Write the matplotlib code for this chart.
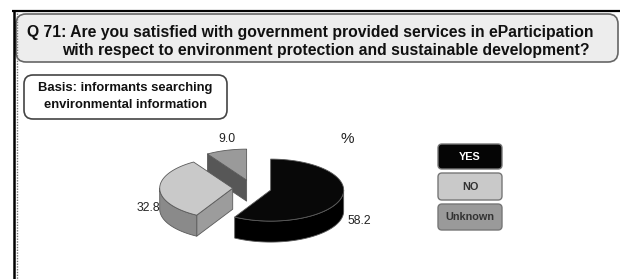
import numpy as np
import matplotlib
matplotlib.use("Agg")
import matplotlib.pyplot as plt
from matplotlib.patches import FancyBboxPatch, Polygon

# ---- data ----
categories = ["YES", "NO", "Unknown"]
values = [58.2, 32.8, 9.0]
value_labels = ["58.2", "32.8", "9.0"]
title_lines = ["Q 71: Are you satisfied with government provided services in eParticipation",
               "with respect to environment protection and sustainable development?"]
basis_lines = ["Basis: informants searching", "environmental information"]

top_colors = ["#080808", "#c9c9c9", "#9a9a9a"]
wall_colors = ["#000000", "#8a8a8a", "#6a6a6a"]
cut_colors = ["#000000", "#9c9c9c", "#575757"]
legend_face = ["#050505", "#c9c9c9", "#9a9a9a"]
legend_text = ["white", "#333333", "#333333"]

W, H = 620, 279
fig = plt.figure(figsize=(W / 100, H / 100), dpi=100)
fig.patch.set_facecolor("white")
ax = fig.add_axes([0, 0, 1, 1])
ax.set_xlim(0, W)
ax.set_ylim(H, 0)
ax.axis("off")

FONT = "Liberation Sans"

# ---- frame ----
ax.plot([12, 620], [11, 11], color="black", lw=1.6, solid_capstyle="butt")
ax.plot([13.5, 13.5], [11, 279], color="black", lw=1.8, solid_capstyle="butt")
ax.plot([16.5, 16.5], [13, 279], color="#777777", lw=1.0, ls=(0, (1, 1)))

# ---- title box ----
tb = FancyBboxPatch((16, 14), 602, 48, boxstyle="round,pad=0,rounding_size=10",
                    facecolor="#ededed", edgecolor="#666666", lw=1.2)
ax.add_patch(tb)
ax.text(27, 32, title_lines[0], fontsize=11.3, fontweight="bold", family=FONT,
        ha="left", va="center", color="#111111")
ax.text(62, 50, title_lines[1], fontsize=11.3, fontweight="bold", family=FONT,
        ha="left", va="center", color="#111111")

# ---- basis box ----
bb = FancyBboxPatch((24, 75), 203, 44, boxstyle="round,pad=0,rounding_size=9",
                    facecolor="white", edgecolor="#444444", lw=1.2)
ax.add_patch(bb)
ax.text(125, 88, basis_lines[0], fontsize=9.4, fontweight="bold", family=FONT,
        ha="center", va="center", color="#111111")
ax.text(125, 105, basis_lines[1], fontsize=9.4, fontweight="bold", family=FONT,
        ha="center", va="center", color="#111111")

# ---- 3D exploded pie ----
cx, cy = 252.0, 188.0
rx, ry = 73.0, 31.0
explode = 19.3
depth = 21.0

total = float(sum(values))
starts = np.concatenate([[0.0], np.cumsum(values)[:-1]]) / total * 360.0
ends = np.cumsum(values) / total * 360.0


def pt(c, th, r=1.0):
    t = np.radians(th)
    return np.array([c[0] + r * rx * np.sin(t), c[1] - r * ry * np.cos(t)])


def arc(c, a, b, n=80):
    t = np.radians(np.linspace(a, b, n))
    return np.column_stack([c[0] + rx * np.sin(t), c[1] - ry * np.cos(t)])


centers = []
for s, e in zip(starts, ends):
    m = np.radians((s + e) / 2)
    centers.append(np.array([cx + explode * np.sin(m),
                             cy - explode * (ry / rx) * np.cos(m)]))

edge_kw = dict(edgecolor="#5a5a5a", lw=0.6, joinstyle="round")
down = np.array([0, depth])

# draw back to front: Unknown, NO, YES
for i in [2, 1, 0]:
    s, e, c = starts[i], ends[i], centers[i]
    z = 1 + 3 * (2 - i)
    # visible cut faces
    for th, normal in [(s, s - 90), (e, e + 90)]:
        if np.cos(np.radians(normal)) < -1e-6:
            p0, p1 = c, pt(c, th)
            poly = np.array([p0, p1, p1 + down, p0 + down])
            ax.add_patch(Polygon(poly, closed=True, facecolor=cut_colors[i], zorder=z, **edge_kw))
    # outer wall (front half 90..270)
    a, b = max(s, 90), min(e, 270)
    if b > a:
        top = arc(c, a, b)
        poly = np.vstack([top, (top + down)[::-1]])
        ax.add_patch(Polygon(poly, closed=True, facecolor=wall_colors[i], zorder=z + 1, **edge_kw))
    # top face
    poly = np.vstack([c, arc(c, s, e)])
    ax.add_patch(Polygon(poly, closed=True, facecolor=top_colors[i], zorder=z + 2, **edge_kw))

# value labels
label_pos = [(359, 221), (148, 208), (227, 139)]
for lab, (x, y) in zip(value_labels, label_pos):
    ax.text(x, y, lab, fontsize=8.8, family=FONT, ha="center", va="center", color="#222222", zorder=20)
ax.text(347, 139, "%", fontsize=11, family=FONT, ha="center", va="center", color="#222222", zorder=20)

# ---- legend ----
leg_y = [144, 173, 204]
leg_h = [25, 27, 26]
for i, cat in enumerate(categories):
    box = FancyBboxPatch((438, leg_y[i]), 64, leg_h[i], boxstyle="round,pad=0,rounding_size=4",
                         facecolor=legend_face[i], edgecolor="#777777", lw=1.0, zorder=10)
    ax.add_patch(box)
    ax.text(470, leg_y[i] + leg_h[i] / 2, cat, fontsize=7.8, fontweight="bold", family=FONT,
            ha="center", va="center", color=legend_text[i], zorder=11)

fig.savefig("out.png", dpi=100, facecolor=fig.get_facecolor())
